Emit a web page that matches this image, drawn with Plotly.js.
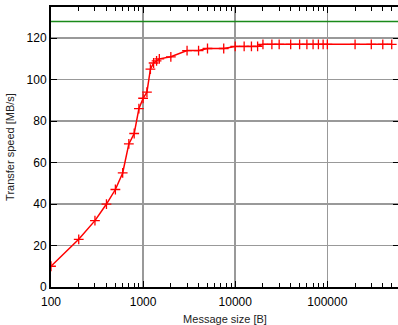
<!DOCTYPE html>
<html>
<head>
<meta charset="utf-8">
<script src="https://cdn.plot.ly/plotly-3.0.1.min.js"></script>
<style>
html,body{margin:0;padding:0;overflow:hidden;background:#fff;}
#chart{width:399px;height:325px;}
</style>
</head>
<body>
<div id="chart"></div>
<script>
// Data
const messageSize = [100,200,300,400,500,600,700,800,900,1000,1100,1200,1300,1400,1500,2000,3000,4000,5000,7500,10000,12500,15000,17500,20000,25000,30000,40000,50000,60000,70000,80000,90000,100000,200000,300000,400000,500000];
const transferSpeed = [10,23,32,40,47,55,69,74,86,91,94,105,108,109,110,111,114,114,115,115,116,116,116,116,117,117,117,117,117,117,117,117,117,117,117,117,117,117];
const linkSpeed = 128;
const xTickVals = [100,1000,10000,100000];
const xTickText = ['100','1000','10000','100000'];
const yTickVals = [0,20,40,60,80,100,120];

const minorVals = [];
for (const d of [100,1000,10000,100000]) for (let k = 2; k <= 9; k++) minorVals.push(d*k);

const trace = {
  x: messageSize, y: transferSpeed, type: 'scatter', mode: 'lines+markers',
  line: {color: '#ff0000', width: 1.5},
  marker: {symbol: 'cross-thin', size: 7, line: {color: '#ff0000', width: 1.3}, color: '#ff0000'},
  showlegend: false, hoverinfo: 'skip'
};

const layout = {
  width: 399, height: 325,
  margin: {l: 51, r: 0, t: 7, b: 38},
  paper_bgcolor: '#fff', plot_bgcolor: '#fff',
  font: {family: 'Liberation Sans, Arial, sans-serif', size: 11, color: '#000'},
  xaxis: {
    type: 'log', range: [2, 5.778], autorange: false,
    tickmode: 'array', tickvals: xTickVals, ticktext: xTickText,
    ticks: 'inside', ticklen: 6, tickwidth: 1, tickcolor: '#000',
    showline: true, linecolor: '#000', linewidth: 2, mirror: 'allticks',
    showgrid: true, gridcolor: '#999', gridwidth: 1.5, zeroline: false,
    minor: {tickmode: 'array', tickvals: minorVals, ticks: 'inside', ticklen: 4, tickwidth: 1, tickcolor: '#000', showgrid: false},
    tickfont: {size: 12, family: 'Liberation Sans, Arial, sans-serif'},
    ticklabelstandoff: 3,
    title: {text: 'Message size [B]', font: {size: 11, color: '#222'}, standoff: 8}
  },
  yaxis: {
    range: [0, 135], autorange: false,
    tickmode: 'array', tickvals: yTickVals,
    ticks: 'inside', ticklen: 6, tickwidth: 1, tickcolor: '#000',
    showline: true, linecolor: '#000', linewidth: 2, mirror: 'ticks',
    showgrid: true, gridcolor: '#999', gridwidth: 1.5, zeroline: false,
    tickfont: {size: 12, family: 'Liberation Sans, Arial, sans-serif'},
    title: {text: 'Transfer speed [MB/s]', font: {size: 11, color: '#222'}, standoff: 10}
  },
  shapes: [{type: 'line', xref: 'paper', x0: 0, x1: 1, yref: 'y', y0: linkSpeed, y1: linkSpeed,
    line: {color: '#1a8a1a', width: 1.5}}]
};

Plotly.newPlot('chart', [trace], layout, {staticPlot: true, displayModeBar: false});
</script>
</body>
</html>
